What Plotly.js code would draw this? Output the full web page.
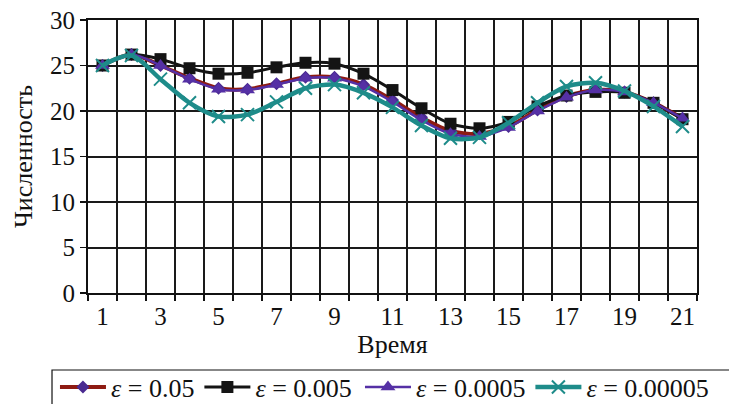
<!DOCTYPE html>
<html>
<head>
<meta charset="utf-8">
<script src="https://cdn.plot.ly/plotly-3.0.1.min.js"></script>
<style>html,body{margin:0;padding:0;background:#fff;}#chart{width:729px;height:404px;}</style>
</head>
<body>
<div id="chart"></div>
<script>
const categories = [1,2,3,4,5,6,7,8,9,10,11,12,13,14,15,16,17,18,19,20,21];
const tickValues = [1,3,5,7,9,11,13,15,17,19,21];
const tickLabels = ["1","3","5","7","9","11","13","15","17","19","21"];
const seriesNames = ["<i>ε</i> = 0.05", "<i>ε</i> = 0.005", "<i>ε</i> = 0.0005", "<i>ε</i> = 0.00005"];
const eps005     = [25,26.2,25.0,23.6,22.5,22.4,23.0,23.7,23.7,22.9,21.2,19.3,17.8,17.5,18.3,20.1,21.6,22.3,22.1,20.9,19.2];
const eps0005    = [25,26.2,25.7,24.7,24.1,24.2,24.8,25.3,25.2,24.1,22.3,20.3,18.6,18.1,18.8,20.5,21.7,22.1,22.0,20.9,19.1];
const eps00005   = [25,26.2,25.0,23.5,22.4,22.3,22.9,23.6,23.6,22.7,21.0,19.0,17.5,17.2,18.2,20.0,21.5,22.3,22.1,20.9,19.2];
const eps000005  = [25,26.1,23.5,20.9,19.4,19.6,21.0,22.5,22.9,22.0,20.4,18.4,17.0,17.1,18.7,20.9,22.7,23.1,22.2,20.5,18.3];

const serif = "Liberation Serif";
const traces = [
  {x: categories, y: eps005, name: seriesNames[0], mode: 'lines+markers', legend: 'legend',
   line: {color: '#8e1b12', width: 4, shape: 'spline', smoothing: 0.8},
   marker: {symbol: 'diamond', size: 10, color: '#4a2a90'}},
  {x: categories, y: eps0005, name: seriesNames[1], mode: 'lines+markers', legend: 'legend',
   line: {color: '#141414', width: 3, shape: 'spline', smoothing: 0.8},
   marker: {symbol: 'square', size: 12, color: '#141414'}},
  {x: categories, y: eps00005, name: seriesNames[2], mode: 'lines+markers', legend: 'legend2',
   line: {color: '#5530a5', width: 2.5, shape: 'spline', smoothing: 0.8},
   marker: {symbol: 'triangle-up', size: 13, color: '#5530a5'}},
  {x: categories, y: eps000005, name: seriesNames[3], mode: 'lines+markers', legend: 'legend2',
   line: {color: '#1e8c8a', width: 4.5, shape: 'spline', smoothing: 0.8},
   marker: {symbol: 'x-thin-open', size: 13, line: {color: '#1e8c8a', width: 2}}}
];

const legendCommon = {
  orientation: 'h', xref: 'container', yref: 'container', xanchor: 'left', y: 0.100, yanchor: 'top',
  borderwidth: 0, bgcolor: 'rgba(0,0,0,0)',
  font: {family: serif, size: 26, color: '#111'}, itemwidth: 46, tracegroupgap: 0
};

const layout = {
  width: 729, height: 404,
  margin: {l: 88, r: 32, t: 20, b: 111},
  paper_bgcolor: '#fff', plot_bgcolor: '#fff',
  font: {family: serif, size: 24, color: '#111'},
  showlegend: true,
  xaxis: {
    range: [0.5, 21.5], tickmode: 'array', tickvals: tickValues, ticktext: tickLabels,
    showgrid: false, ticks: '', showline: true, linecolor: '#111', linewidth: 2, mirror: true,
    zeroline: false, automargin: false, tickfont: {family: serif, size: 25, color: '#111'},
    minor: {tickmode: 'linear', tick0: 0.5, dtick: 1, showgrid: true, gridcolor: '#1a1a1a', gridwidth: 2,
            ticks: 'outside', ticklen: 6, tickwidth: 1.5, tickcolor: '#111'},
    title: {text: 'Время', font: {family: serif, size: 26, color: '#111'}, standoff: 6}
  },
  yaxis: {
    range: [0, 30], dtick: 5, tick0: 0, showgrid: true, gridcolor: '#1a1a1a', gridwidth: 2,
    showline: true, linecolor: '#111', linewidth: 2, mirror: true, zeroline: false, automargin: false,
    ticks: 'outside', ticklen: 6, tickwidth: 1.5, tickcolor: '#111',
    tickfont: {family: serif, size: 25, color: '#111'},
    title: {text: 'Численность', font: {family: serif, size: 26, color: '#111'}, standoff: 10}
  },
  legend: Object.assign({}, legendCommon, {x: 0.0754}),
  legend2: Object.assign({}, legendCommon, {x: 0.4938}),
  shapes: [
    {type: 'rect', xref: 'paper', yref: 'paper', x0: -0.0591, x1: 1.2, y0: -0.282, y1: -0.6,
     line: {color: '#111', width: 1.2}, fillcolor: 'rgba(0,0,0,0)', layer: 'below'}
  ]
};

Plotly.newPlot('chart', traces, layout, {staticPlot: true, displayModeBar: false});
</script>
</body>
</html>
